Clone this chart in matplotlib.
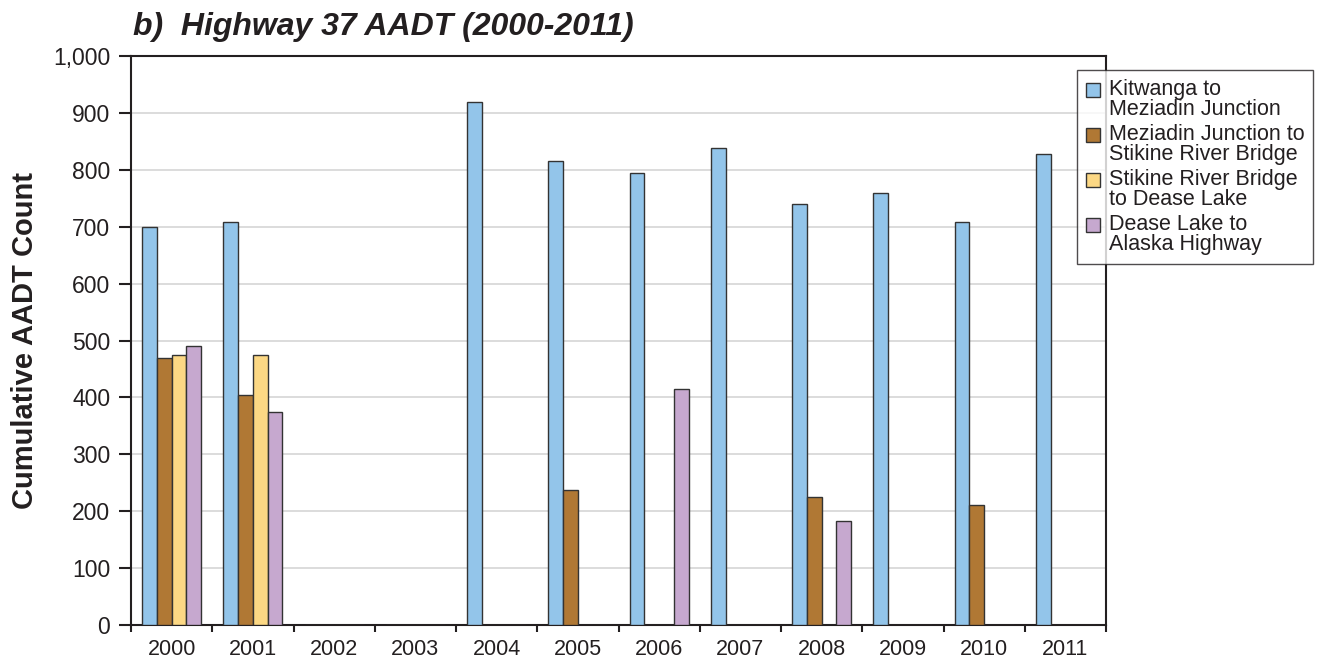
import numpy as np
import matplotlib
matplotlib.use("Agg")
import matplotlib.pyplot as plt
from matplotlib.ticker import FuncFormatter, FixedLocator
from matplotlib.legend_handler import HandlerPatch
from matplotlib.patches import Rectangle

plt.rcParams['font.family'] = ['Liberation Sans', 'DejaVu Sans']

# Data (0 = no count for that year)
years = ['2000', '2001', '2002', '2003', '2004', '2005',
         '2006', '2007', '2008', '2009', '2010', '2011']
kitwanga = [699, 709, 0, 0, 920, 816, 795, 838, 740, 760, 709, 828]
meziadin = [469, 405, 0, 0, 0, 238, 0, 0, 225, 0, 211, 0]
stikine = [474, 474, 0, 0, 0, 0, 0, 0, 0, 0, 0, 0]
dease = [490, 375, 0, 0, 0, 0, 415, 0, 182, 0, 0, 0]

series = [
    ("Kitwanga to\nMeziadin Junction", kitwanga, '#93C5EA'),
    ("Meziadin Junction to\nStikine River Bridge", meziadin, '#B07834'),
    ("Stikine River Bridge\nto Dease Lake", stikine, '#FCD884'),
    ("Dease Lake to\nAlaska Highway", dease, '#C6A8CF'),
]


# legend square sits next to the first text line, not the middle
def top_square(legend, orig_handle, xdescent, ydescent, width, height, fontsize):
    return Rectangle((-xdescent, -ydescent + 0.45 * fontsize), width, height)


fig = plt.figure(figsize=(13.18, 6.6), dpi=100)
ax = fig.add_axes([131 / 1318, 1 - 625 / 660, (1106 - 131) / 1318, (625 - 56) / 660])

x = np.arange(len(years))
w = 0.181
handles, labels = [], []
for i, (name, vals, col) in enumerate(series):
    b = ax.bar(x + (i - 1.5) * w, vals, w, color=col, edgecolor='#333333',
               linewidth=1.0, label=name, zorder=3)
    handles.append(b.patches[0])
    labels.append(name)

ax.set_xlim(-0.5, len(years) - 0.5)
ax.set_ylim(0, 1000)
ax.set_yticks(np.arange(0, 1001, 100))
ax.yaxis.set_major_formatter(FuncFormatter(lambda v, p: f"{int(v):,}"))
ax.grid(axis='y', color='#d9d9d9', linewidth=1.3, zorder=0)

# category labels at centres, tick marks on the boundaries
ax.set_xticks(x)
ax.set_xticklabels(years)
ax.xaxis.set_minor_locator(FixedLocator(np.arange(-0.5, len(years), 1.0)))
ax.tick_params(axis='x', which='major', length=0, labelsize=15.5, pad=10, colors='#231f20')
ax.tick_params(axis='x', which='minor', length=5, width=1.5, direction='out', color='#231f20')
ax.tick_params(axis='y', length=9, width=1.5, direction='out', pad=6, labelsize=16.5, colors='#231f20')

for s in ax.spines.values():
    s.set_color('#231f20')
    s.set_linewidth(1.5)

ax.set_ylabel('Cumulative AADT Count', fontsize=21, fontweight='bold', color='#231f20', labelpad=10)
fig.text(133 / 1318, 1 - 27 / 660, 'b)  Highway 37 AADT (2000-2011)', fontsize=23,
         fontweight='bold', fontstyle='italic', va='center', ha='left', color='#231f20')

leg = ax.legend(handles, labels, loc='upper left', bbox_to_anchor=(1077 / 1318, 1 - 70 / 660),
                bbox_transform=fig.transFigure, fontsize=15.5, frameon=True, fancybox=False,
                edgecolor='#231f20', borderpad=0.42, labelspacing=0.2,
                handlelength=0.65, handleheight=0.65, handletextpad=0.4, borderaxespad=0,
                handler_map={h: HandlerPatch(patch_func=top_square) for h in handles})
leg.get_frame().set_linewidth(1.0)
for t in leg.get_texts():
    t.set_linespacing(0.92)
    t.set_color('#231f20')

plt.savefig('out.png', dpi=100)
